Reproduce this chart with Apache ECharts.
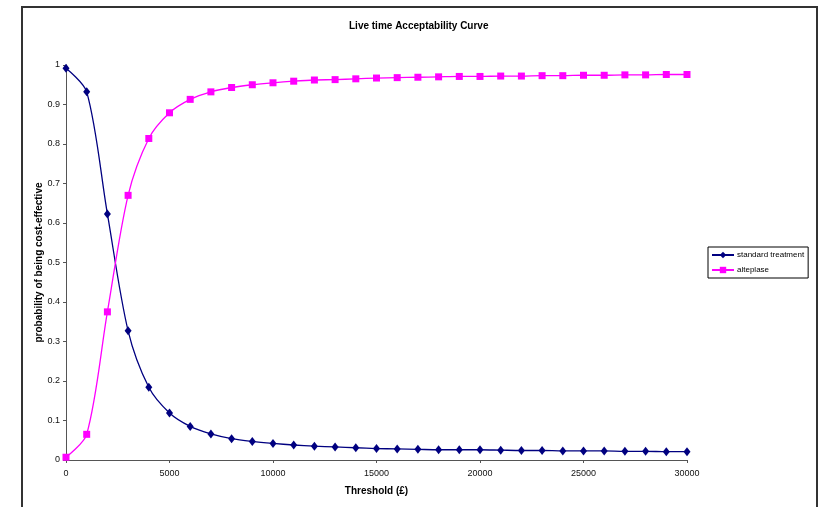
<!DOCTYPE html>
<html>
<head>
<meta charset="utf-8">
<script src="https://cdn.jsdelivr.net/npm/echarts@6/dist/echarts.min.js"></script>
<style>
  html, body { margin: 0; padding: 0; background: #fff; }
  #chart { width: 827px; height: 507px; }
</style>
</head>
<body>
<div id="chart"></div>
<script>
const thresholds = [0, 1000, 2000, 3000, 4000, 5000, 6000, 7000, 8000, 9000, 10000,
  11000, 12000, 13000, 14000, 15000, 16000, 17000, 18000, 19000, 20000,
  21000, 22000, 23000, 24000, 25000, 26000, 27000, 28000, 29000, 30000];

const standardTreatment = [0.992, 0.932, 0.623, 0.327, 0.184, 0.119, 0.085, 0.066, 0.054, 0.047, 0.042,
  0.038, 0.035, 0.033, 0.031, 0.029, 0.028, 0.027, 0.026, 0.026, 0.026,
  0.025, 0.024, 0.024, 0.023, 0.023, 0.023, 0.022, 0.022, 0.021, 0.021];

const alteplase = [0.007, 0.065, 0.375, 0.670, 0.814, 0.879, 0.913, 0.932, 0.943, 0.950, 0.955,
  0.959, 0.962, 0.963, 0.965, 0.967, 0.968, 0.969, 0.970, 0.971, 0.971,
  0.972, 0.972, 0.973, 0.973, 0.974, 0.974, 0.975, 0.975, 0.976, 0.976];

const FONT = '"Liberation Sans", Arial, sans-serif';

const chart = echarts.init(document.getElementById('chart'));

chart.setOption({
  backgroundColor: '#fff',
  animation: false,
  textStyle: { fontFamily: FONT },
  title: {
    text: 'Live time Acceptability Curve',
    left: 349,
    top: 21,
    padding: 0,
    textStyle: { fontSize: 10, fontWeight: 'bold', color: '#000', fontFamily: FONT },
  },
  graphic: [
    {
      type: 'rect',
      silent: true,
      shape: { x: 22, y: 7, width: 795, height: 530 },
      style: { fill: 'none', stroke: '#333', lineWidth: 2 },
    },
  ],
  legend: {
    orient: 'vertical',
    left: 708,
    top: 247,
    padding: [4, 4, 4, 3],
    itemWidth: 22,
    itemHeight: 8,
    itemGap: 7,
    borderColor: '#000',
    borderWidth: 1,
    textStyle: { fontSize: 8, color: '#000', fontFamily: FONT, padding: [0, 0, 0, -2] },
    data: ['standard treatment', 'alteplase'],
  },
  grid: { left: 66, right: 140, top: 65, bottom: 47, containLabel: false },
  xAxis: {
    type: 'value',
    min: 0,
    max: 30000,
    interval: 5000,
    name: 'Threshold (£)',
    nameLocation: 'middle',
    nameGap: 26,
    nameMoveOverlap: false,
    nameTextStyle: { fontSize: 10, fontWeight: 'bold', color: '#000', fontFamily: FONT },
    axisLine: { lineStyle: { color: '#555', width: 1 } },
    axisTick: { show: true, length: 3, lineStyle: { color: '#555' } },
    axisLabel: { fontSize: 9, color: '#111', margin: 9, fontFamily: FONT, formatter: v => String(v) },
    splitLine: { show: false },
  },
  yAxis: {
    type: 'value',
    min: 0,
    max: 1,
    interval: 0.1,
    name: 'probability of being cost-effective',
    nameLocation: 'middle',
    nameGap: 22,
    nameMoveOverlap: false,
    nameTextStyle: { fontSize: 10, fontWeight: 'bold', color: '#000', fontFamily: FONT },
    axisLine: { show: true, lineStyle: { color: '#555', width: 1 } },
    axisTick: { show: true, length: 3, lineStyle: { color: '#555' } },
    axisLabel: {
      fontSize: 9, color: '#111', margin: 6, fontFamily: FONT,
      formatter: v => String(Math.round(v * 10) / 10),
    },
    splitLine: { show: false },
  },
  series: [
    {
      name: 'standard treatment',
      type: 'line',
      data: thresholds.map((t, i) => [t, standardTreatment[i]]),
      smooth: 0.3,
      symbol: 'diamond',
      symbolSize: [7, 9],
      lineStyle: { color: '#000080', width: 1.3 },
      itemStyle: { color: '#000080' },
    },
    {
      name: 'alteplase',
      type: 'line',
      data: thresholds.map((t, i) => [t, alteplase[i]]),
      smooth: 0.3,
      symbol: 'rect',
      symbolSize: 7,
      lineStyle: { color: '#ff00ff', width: 1.3 },
      itemStyle: { color: '#ff00ff' },
    },
  ],
});
</script>
</body>
</html>
